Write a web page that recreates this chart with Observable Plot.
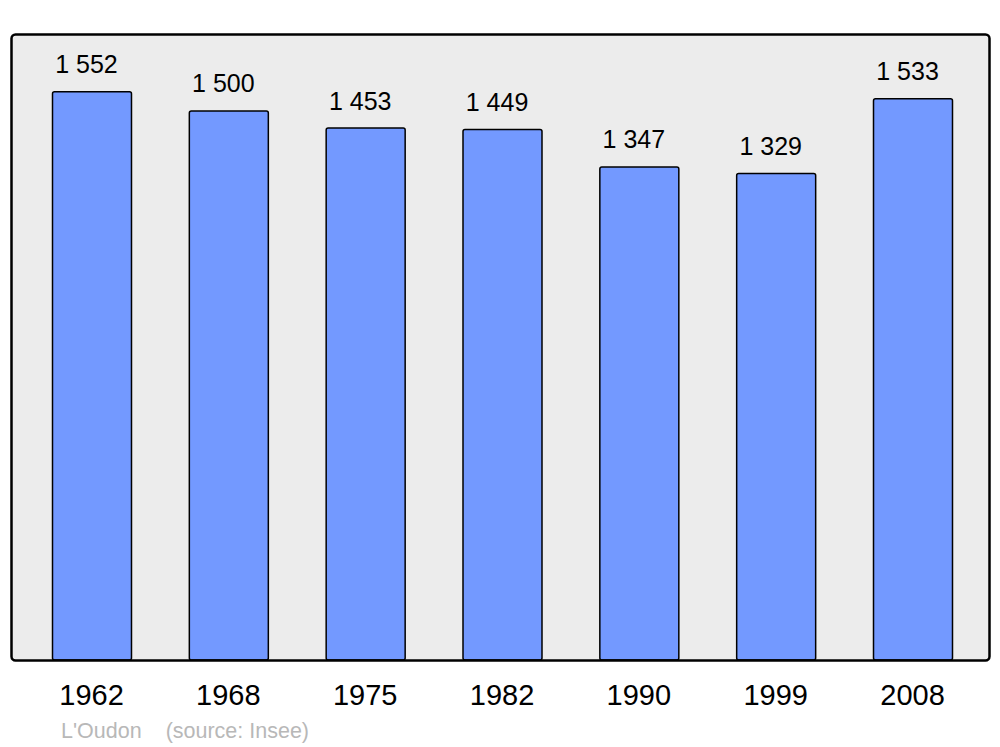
<!DOCTYPE html>
<html>
<head>
<meta charset="utf-8">
<script src="https://cdn.jsdelivr.net/npm/d3@7"></script>
<script src="https://cdn.jsdelivr.net/npm/@observablehq/plot@0.6"></script>
<style>
  body { margin: 0; background: #fff; font-family: "Liberation Sans", Arial, sans-serif; }
  #wrap { position: relative; width: 1000px; height: 747px; }
  #caption { position: absolute; left: 61px; top: 719px; font-size: 21.5px; color: #b8b8b8; white-space: pre; }
</style>
</head>
<body>
<div id="wrap">
  <div id="chart"></div>
  <div id="caption"><span>L'Oudon</span><span style="margin-left:24px">(source: Insee)</span></div>
</div>
<script>
const years = ["1962", "1968", "1975", "1982", "1990", "1999", "2008"];
const population = [1552, 1500, 1453, 1449, 1347, 1329, 1533];
const data = years.map((y, i) => ({year: y, pop: population[i]}));
const fmt = v => d3.format(",")(v).replace(/,/g, " ");

const chart = Plot.plot({
  width: 1000,
  height: 710,
  marginLeft: 11,
  marginRight: 11,
  marginTop: 34,
  marginBottom: 50,
  style: { fontFamily: "Liberation Sans, Arial, sans-serif", background: "transparent" },
  x: { type: "band", domain: years, range: [52.5, 952.5], paddingInner: 0.4227, paddingOuter: 0, round: false },
  y: { domain: [0, 1710], axis: null },
  marks: [
    Plot.frame({ fill: "#ececec", stroke: "none", rx: 4 }),
    Plot.barY(data, { x: "year", y: "pop", fill: "#7399ff", stroke: "#000", strokeWidth: 1.5, rx: 2 }),
    Plot.text(data, { x: "year", y: "pop", text: d => fmt(d.pop), dx: -6, dy: -19, lineAnchor: "bottom", fontSize: 25, fill: "#000" }),
    Plot.frame({ fill: "none", stroke: "#000", strokeWidth: 2.5, rx: 4 }),
    Plot.axisX({ tickSize: 0, tickPadding: 24, dx: -1, fontSize: 29, color: "#000", label: null })
  ]
});
document.getElementById("chart").appendChild(chart);
</script>
</body>
</html>
